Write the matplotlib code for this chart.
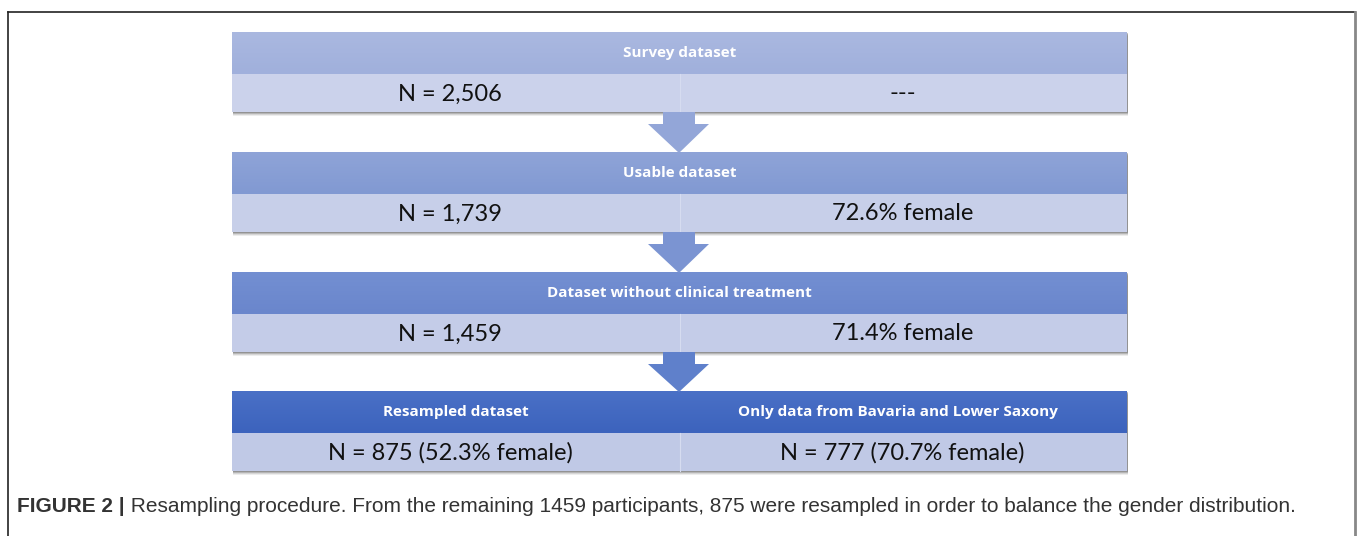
"""Flow diagram of the resampling procedure (Figure 2)."""

import matplotlib

matplotlib.use("Agg")

import matplotlib.pyplot as plt
import numpy as np
from matplotlib.colors import LinearSegmentedColormap
from matplotlib.patches import Polygon, Rectangle

WIDTH, HEIGHT = 1357, 536

# Diagram content, one entry per stage
stage_titles = [
    "Survey dataset",
    "Usable dataset",
    "Dataset without clinical treatment",
    None,
]
split_titles = ["Resampled dataset", "Only data from Bavaria and Lower Saxony"]
left_values = ["N = 2,506", "N = 1,739", "N = 1,459", "N = 875 (52.3% female)"]
right_values = ["---", "72.6% female", "71.4% female", "N = 777 (70.7% female)"]

caption_bold = "FIGURE 2 |"
caption_text = (
    " Resampling procedure. From the remaining 1459 participants, 875 were "
    "resampled in order to balance the gender distribution."
)

# Styling
header_top = ["#aab8e0", "#8fa4d8", "#738fd2", "#4a70c6"]
header_bottom = ["#a0b0dc", "#8199d2", "#6a86cc", "#3c63bd"]
body_colors = ["#cbd2eb", "#c7cfe9", "#c4cce8", "#c0c9e6"]
arrow_colors = ["#93a6d8", "#7b94d2", "#5f80cb"]

box_left, box_right = 232, 1127
split_x = 680
box_tops = [32, 152, 272, 391]
header_h = 42
body_h = 38

figure = plt.figure(figsize=(WIDTH / 100, HEIGHT / 100), dpi=100)
axes = figure.add_axes([0, 0, 1, 1])
axes.set_xlim(0, WIDTH)
axes.set_ylim(HEIGHT, 0)
axes.axis("off")

# Outer frame of the figure panel
axes.plot([8, 1355], [12, 12], color="#222222", linewidth=1.2)
axes.plot([8, 8], [12, HEIGHT], color="#222222", linewidth=1.2)
axes.plot([1355, 1355], [12, HEIGHT], color="#888888", linewidth=2.0)

header_font = dict(family=["Open Sans", "DejaVu Sans"], fontsize=11,
                   fontweight="bold", color="white", ha="center", va="center")
body_font = dict(family=["Lato", "DejaVu Sans"], fontsize=17,
                 color="#111111", ha="center", va="center")

left_center = (box_left + split_x) / 2
right_center = (split_x + box_right) / 2

for index, top in enumerate(box_tops):
    bottom = top + header_h + body_h

    # drop shadow
    for offset, alpha in ((4, 0.10), (3, 0.15), (2, 0.25), (1, 0.35)):
        axes.add_patch(Rectangle((box_left + 1, top + offset), box_right - box_left,
                                 header_h + body_h, facecolor="#555555",
                                 edgecolor="none", alpha=alpha, zorder=1))

    # header with vertical gradient
    cmap = LinearSegmentedColormap.from_list(
        "header", [header_top[index], header_bottom[index]])
    gradient = np.linspace(0, 1, 64).reshape(-1, 1)
    axes.imshow(gradient, cmap=cmap, aspect="auto", zorder=2,
                extent=(box_left, box_right, top + header_h, top))

    # body
    axes.add_patch(Rectangle((box_left, top + header_h), box_right - box_left,
                             body_h, facecolor=body_colors[index],
                             edgecolor="none", zorder=2))
    axes.plot([split_x, split_x], [top + header_h, bottom],
              color="#d6dcf0", linewidth=0.8, zorder=3)

    header_y = top + header_h / 2
    if stage_titles[index] is not None:
        axes.text((box_left + box_right) / 2, header_y, stage_titles[index],
                  zorder=4, **header_font)
    else:
        axes.text(left_center, header_y, split_titles[0], zorder=4, **header_font)
        axes.text(right_center - 6, header_y, split_titles[1], zorder=4,
                  **header_font)

    body_y = top + header_h + body_h / 2 + 1
    axes.text(left_center - 6, body_y, left_values[index], zorder=4, **body_font)
    axes.text(right_center - 1, body_y, right_values[index], zorder=4, **body_font)

    # arrow to next stage
    if index < len(box_tops) - 1:
        next_top = box_tops[index + 1]
        shaft_l, shaft_r = 663, 695
        head_l, head_r = 648, 709
        head_y = bottom + 12
        arrow = Polygon(
            [(shaft_l, bottom), (shaft_r, bottom), (shaft_r, head_y),
             (head_r, head_y), (679, next_top + 1), (head_l, head_y),
             (shaft_l, head_y)],
            closed=True, facecolor=arrow_colors[index], edgecolor="none",
            zorder=3)
        axes.add_patch(arrow)

# Caption
caption_font = dict(family=["Liberation Sans", "DejaVu Sans"], fontsize=15,
                    color="#333333", ha="left", va="center")
caption = axes.text(17, 506, caption_bold, fontweight="bold", **caption_font)
figure.canvas.draw()
extent = caption.get_window_extent()
caption_end = axes.transData.inverted().transform((extent.x1, extent.y0))[0]
axes.text(caption_end, 506, caption_text, **caption_font)

figure.savefig("out.png", dpi=100)
